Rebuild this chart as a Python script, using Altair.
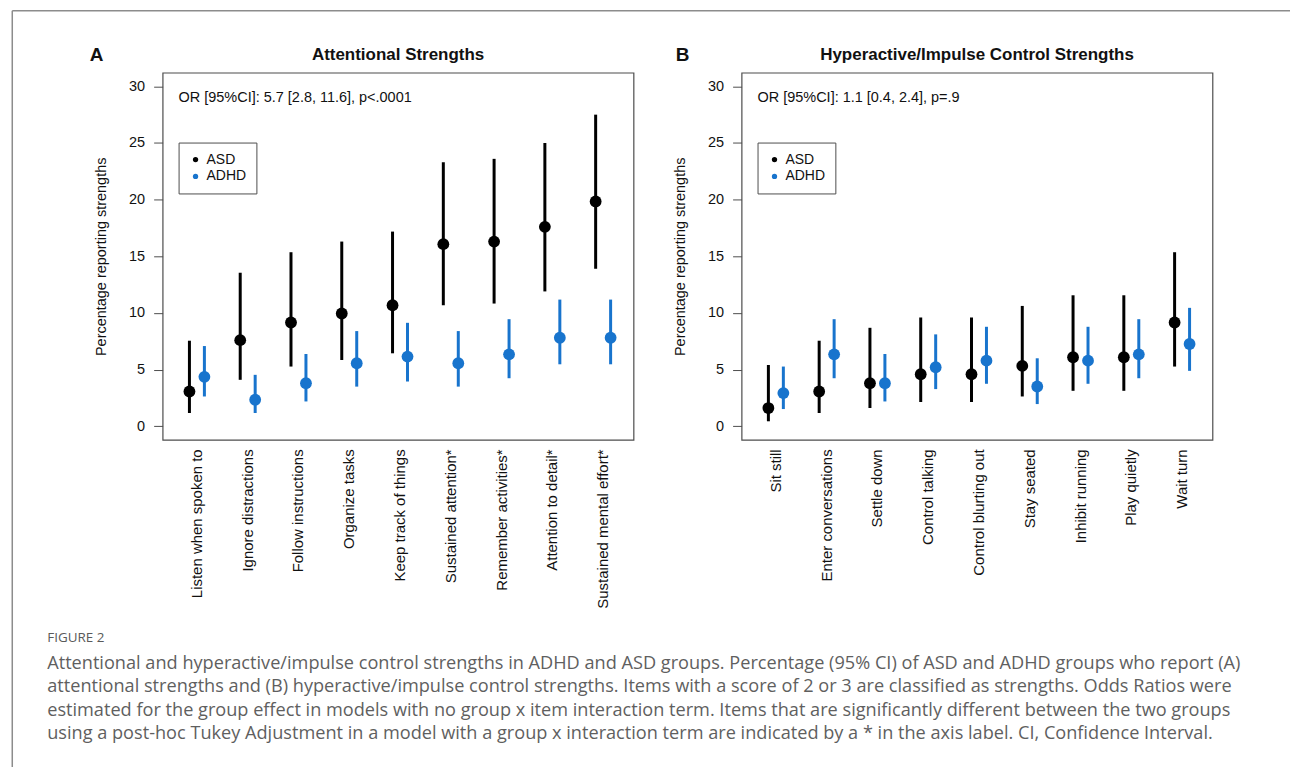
import altair as alt
import pandas as pd

# ---------------- data ----------------
groups = ["ASD", "ADHD"]
group_colors = ["#000000", "#1874CD"]
y_ticks = [0, 5, 10, 15, 20, 25, 30]

attn_items = ["Listen when spoken to", "Ignore distractions", "Follow instructions",
              "Organize tasks", "Keep track of things", "Sustained attention*",
              "Remember activities*", "Attention to detail*", "Sustained mental effort*"]
attn_asd = [3.07, 7.6, 9.16, 9.95, 10.68, 16.07, 16.3, 17.6, 19.84]
attn_asd_lo = [1.17, 4.1, 5.27, 5.85, 6.44, 10.68, 10.83, 11.9, 13.9]
attn_asd_hi = [7.55, 13.55, 15.36, 16.3, 17.18, 23.3, 23.6, 25.0, 27.5]
attn_adhd = [4.36, 2.34, 3.8, 5.56, 6.15, 5.56, 6.35, 7.81, 7.81]
attn_adhd_lo = [2.63, 1.17, 2.19, 3.5, 3.95, 3.5, 4.24, 5.47, 5.47]
attn_adhd_hi = [7.08, 4.54, 6.38, 8.4, 9.13, 8.4, 9.45, 11.18, 11.18]

hyp_items = ["Sit still", "Enter conversations", "Settle down", "Control talking",
             "Control blurting out", "Stay seated", "Inhibit running", "Play quietly", "Wait turn"]
hyp_asd = [1.61, 3.07, 3.8, 4.59, 4.59, 5.33, 6.09, 6.09, 9.16]
hyp_asd_lo = [0.44, 1.17, 1.61, 2.14, 2.14, 2.63, 3.13, 3.13, 5.27]
hyp_asd_hi = [5.41, 7.55, 8.69, 9.6, 9.6, 10.62, 11.56, 11.56, 15.36]
hyp_adhd = [2.93, 6.35, 3.8, 5.21, 5.79, 3.51, 5.79, 6.35, 7.26]
hyp_adhd_lo = [1.52, 4.24, 2.19, 3.28, 3.75, 1.96, 3.75, 4.24, 4.89]
hyp_adhd_hi = [5.27, 9.45, 6.38, 8.11, 8.78, 6.0, 8.78, 9.45, 10.45]

titles = ["Attentional Strengths", "Hyperactive/Impulse Control Strengths"]
letters = ["A", "B"]
or_texts = ["OR [95%CI]: 5.7 [2.8, 11.6], p<.0001", "OR [95%CI]: 1.1 [0.4, 2.4], p=.9"]
y_title = "Percentage reporting strengths"

caption_head = "FIGURE 2"
caption_lines = [
    "Attentional and hyperactive/impulse control strengths in ADHD and ASD groups. Percentage (95% CI) of ASD and ADHD groups who report (A)",
    "attentional strengths and (B) hyperactive/impulse control strengths. Items with a score of 2 or 3 are classified as strengths. Odds Ratios were",
    "estimated for the group effect in models with no group x item interaction term. Items that are significantly different between the two groups",
    "using a post-hoc Tukey Adjustment in a model with a group x interaction term are indicated by a * in the axis label. CI, Confidence Interval.",
]

# ---------------- styling ----------------
FONT = "Liberation Sans"
CAP_FONT = "Open Sans"
W, H = 472, 368
DODGE = 7.5
one_row = pd.DataFrame({"k": [0]})


def build_df(items, asd, asd_lo, asd_hi, adhd, adhd_lo, adhd_hi):
    n = len(items)
    return pd.DataFrame({
        "item": list(items) * 2,
        "group": [groups[0]] * n + [groups[1]] * n,
        "pct": list(asd) + list(adhd),
        "lo": list(asd_lo) + list(adhd_lo),
        "hi": list(asd_hi) + list(adhd_hi),
    })


def panel(df, items, letter, title, or_text, letter_x, extra=()):
    xenc = alt.X("item:N", sort=items, title=None,
                 scale=alt.Scale(domain=items, paddingInner=0, paddingOuter=0.137, align=0.64),
                 axis=alt.Axis(labelAngle=-90, labelFont=FONT, labelFontSize=15, labelColor="#111111",
                               labelPadding=9, labelLimit=0, ticks=False, domain=False, grid=False))
    yscale = alt.Scale(domain=[-1.2, 31.2], nice=False, zero=False)
    yaxis = alt.Axis(values=y_ticks, title=y_title, grid=False, domain=False,
                     tickSize=9, tickColor="#4d4d4d", tickWidth=1,
                     labelFont=FONT, labelFontSize=14.5, labelColor="#111111", labelPadding=9,
                     titleFont=FONT, titleFontSize=14.5, titleFontWeight="normal", titleColor="#111111",
                     titleAngle=-90, titleAlign="center", titleBaseline="middle",
                     titleX=-61.5, titleY=H / 2)
    leg = alt.Legend(title=None, orient="none", legendX=16, legendY=70, direction="vertical",
                     strokeColor="#4d4d4d", fillColor="white", padding=10,
                     symbolType="circle", symbolSize=28, symbolStrokeWidth=0,
                     labelFont=FONT, labelFontSize=14, labelColor="#111111",
                     labelOffset=4, rowPadding=3)
    layers = []
    for g, col, off in zip(groups, group_colors, [-DODGE, DODGE]):
        base = alt.Chart(df).transform_filter(alt.datum.group == g)
        layers.append(base.mark_rule(color=col, strokeWidth=3, xOffset=off).encode(
            x=xenc, y=alt.Y("lo:Q", scale=yscale, axis=yaxis), y2="hi:Q"))
    for g, off in zip(groups, [-DODGE, DODGE]):
        base = alt.Chart(df).transform_filter(alt.datum.group == g)
        layers.append(base.mark_circle(size=140, opacity=1, xOffset=off).encode(
            x=xenc, y=alt.Y("pct:Q", scale=yscale, axis=yaxis),
            color=alt.Color("group:N", scale=alt.Scale(domain=groups, range=group_colors), legend=leg)))
    txt = alt.Chart(one_row)
    layers.append(txt.mark_text(align="left", baseline="middle", font=FONT, fontSize=14.5,
                                color="#111111").encode(x=alt.value(16), y=alt.value(25),
                                                        text=alt.value(or_text)))
    layers.append(txt.mark_text(align="center", baseline="middle", font=FONT, fontSize=17,
                                fontWeight="bold", color="#111111").encode(
        x=alt.value(W / 2), y=alt.value(-17.5), text=alt.value(title)))
    layers.append(txt.mark_text(align="left", baseline="middle", font=FONT, fontSize=19,
                                fontWeight="bold", color="#111111").encode(
        x=alt.value(letter_x), y=alt.value(-17.5), text=alt.value(letter)))
    layers.extend(extra)
    return alt.layer(*layers).properties(width=W, height=H)


# frame and caption (drawn relative to panel A)
frame_left = alt.Chart(one_row).mark_rule(color="#8c8c8c", strokeWidth=1.5).encode(
    x=alt.value(-150.7), y=alt.value(-62), y2=alt.value(696))
frame_top = alt.Chart(one_row).mark_rule(color="#8c8c8c", strokeWidth=1.5).encode(
    x=alt.value(-150.7), x2=alt.value(1130), y=alt.value(-62))
cap_head = alt.Chart(one_row).mark_text(align="left", baseline="middle", font=CAP_FONT,
                                        fontSize=13.5, color="#5a5a5a").encode(
    x=alt.value(-115.7), y=alt.value(566.5), text=alt.value(caption_head))
cap_body = alt.Chart(one_row).mark_text(align="left", baseline="top", font=CAP_FONT,
                                        fontSize=18.2, lineHeight=23.5, color="#5f5f5f").encode(
    x=alt.value(-115.7), y=alt.value(583.5), text=alt.value(caption_lines))

dfA = build_df(attn_items, attn_asd, attn_asd_lo, attn_asd_hi, attn_adhd, attn_adhd_lo, attn_adhd_hi)
dfB = build_df(hyp_items, hyp_asd, hyp_asd_lo, hyp_asd_hi, hyp_adhd, hyp_adhd_lo, hyp_adhd_hi)

pA = panel(dfA, attn_items, letters[0], titles[0], or_texts[0], -73,
           extra=(frame_left, frame_top, cap_head, cap_body))
pB = panel(dfB, hyp_items, letters[1], titles[1], or_texts[1], -66)

chart = alt.hconcat(pA, pB, spacing=108.3, bounds="flush").resolve_scale(
    x="independent", y="independent", color="independent"
).resolve_legend(color="independent").properties(
    padding={"left": 10, "top": 8, "right": 0, "bottom": 0},
    background="white",
).configure_view(stroke="#4d4d4d", strokeWidth=1.2)

chart.save("out.html", embed_options={"renderer": "svg", "actions": False})
